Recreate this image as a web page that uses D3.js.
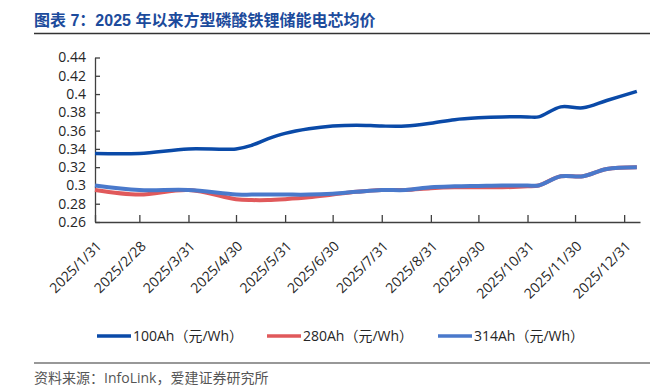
<!DOCTYPE html>
<html>
<head>
<meta charset="utf-8">
<script src="https://cdn.jsdelivr.net/npm/d3@7"></script>
<style>
body { margin: 0; background: #fff; }
text { font-family: "Open Sans", "Noto Sans CJK SC", sans-serif; }
</style>
</head>
<body>
<div id="chart"></div>
<script>
// data
var dates = ["2025-01-31","2025-02-28","2025-03-31","2025-04-30","2025-05-10","2025-05-20","2025-05-31",
  "2025-06-15","2025-06-30","2025-07-15","2025-07-31","2025-08-15","2025-08-31","2025-09-15","2025-09-30",
  "2025-10-15","2025-10-31","2025-11-07","2025-11-21","2025-12-05","2025-12-20","2026-01-08"]
var p100 = [0.335,0.335,0.340,0.340,0.344,0.351,0.357,0.362,0.365,0.366,0.365,0.365,0.368,0.372,0.374,0.375,0.375,0.375,0.386,0.385,0.393,0.403]
var p280 = [0.295,0.290,0.295,0.285,0.284,0.284,0.285,0.287,0.290,0.293,0.295,0.295,0.297,0.298,0.298,0.298,0.299,0.300,0.310,0.310,0.318,0.320]
var p314 = [0.300,0.295,0.295,0.290,0.290,0.290,0.290,0.290,0.291,0.293,0.295,0.295,0.298,0.299,0.2995,0.300,0.300,0.300,0.310,0.310,0.318,0.320]
var seriesNames = ["100Ah（元/Wh）","280Ah（元/Wh）","314Ah（元/Wh）"]
var tickDates = ["2025-01-31","2025-02-28","2025-03-31","2025-04-30","2025-05-31","2025-06-30",
  "2025-07-31","2025-08-31","2025-09-30","2025-10-31","2025-11-30","2025-12-31"]
var tickLabels = ["2025/1/31","2025/2/28","2025/3/31","2025/4/30","2025/5/31","2025/6/30",
  "2025/7/31","2025/8/31","2025/9/30","2025/10/31","2025/11/30","2025/12/31"]
var yTicks = [0.26,0.28,0.3,0.32,0.34,0.36,0.38,0.4,0.42,0.44]

var width = 650
var height = 390
var colors = ["#0a4aa8", "#e0595b", "#4a79cb"]

var parse = d3.timeParse("%Y-%m-%d")

var svg = d3.select("#chart")
  .append("svg")
  .attr("width", width)
  .attr("height", height)

// Titel
svg.append("text")
  .attr("x", 34)
  .attr("y", 26)
  .text("图表 7：2025 年以来方型磷酸铁锂储能电芯均价")
  .style("font-family", "'Liberation Sans', 'Noto Sans CJK SC', sans-serif")
  .style("font-weight", "bold")
  .style("font-size", "16px")
  .attr("fill", "#1c4b9c")

svg.append("line")
  .attr("x1", 34).attr("x2", width)
  .attr("y1", 33.5).attr("y2", 33.5)
  .attr("stroke", "#333").attr("stroke-width", 1.5)

// Skalen
var x = d3.scaleTime()
  .domain([parse("2025-01-31"), parse("2026-01-10")])
  .range([95, 640])

var y = d3.scaleLinear()
  .domain([0.26, 0.44])
  .range([222, 57.5])

// y Achse
var yAxis = svg.append("g")
  .attr("transform", "translate(95,0)")
  .call(d3.axisLeft(y).tickValues(yTicks).tickSize(-5).tickSizeOuter(0)
    .tickFormat(function(d){ return String(+d.toFixed(2)) }))
yAxis.select(".domain").attr("stroke", "#404040").attr("stroke-width", 1.3)
yAxis.selectAll(".tick line").attr("stroke", "#404040").attr("stroke-width", 1.3)
yAxis.selectAll(".tick text")
  .attr("x", -9)
  .style("font-size", "14px")
  .style("font-family", "'Open Sans', sans-serif")
  .attr("fill", "#262626")

// x Achse
var xAxis = svg.append("g")
  .attr("transform", "translate(0,222)")
  .call(d3.axisBottom(x).tickValues(tickDates.map(parse)).tickSize(-7).tickSizeOuter(0)
    .tickFormat(function(d, i){ return tickLabels[i] }))
xAxis.select(".domain").attr("stroke", "#404040").attr("stroke-width", 1.3)
xAxis.selectAll(".tick line").attr("stroke", "#404040").attr("stroke-width", 1.3)
xAxis.selectAll(".tick text")
  .style("font-size", "14px")
  .style("font-family", "'Open Sans', sans-serif")
  .attr("fill", "#262626")
  .attr("text-anchor", "end")
  .attr("dy", null)
  .attr("y", 0)
  .attr("transform", "translate(7,25) rotate(-45)")

// Linien
var allSeries = [p100, p280, p314]
var line = d3.line()
  .curve(d3.curveCatmullRom.alpha(0.5))
  .x(function(d){ return x(d.date) })
  .y(function(d){ return y(d.value) })

svg.selectAll(".series")
  .data(allSeries)
  .enter()
  .append("path")
    .attr("class", "series")
    .attr("fill", "none")
    .attr("stroke", function(d, i){ return colors[i] })
    .attr("stroke-width", function(d, i){ return i == 0 ? 3.5 : 4 })
    .attr("stroke-linejoin", "round")
    .attr("d", function(vals){
      return line(vals.map(function(v, j){ return {date: parse(dates[j]), value: v} }))
    })

// Legende
var legendX = [97, 267, 438]
var legend = svg.selectAll(".legend")
  .data(seriesNames)
  .enter()
  .append("g")
    .attr("class", "legend")
    .attr("transform", function(d, i){ return "translate(" + legendX[i] + ",336)" })
legend.append("line")
  .attr("x1", 0).attr("x2", 34)
  .attr("stroke", function(d, i){ return colors[i] })
  .attr("stroke-width", 3.5)
legend.append("text")
  .attr("x", 36)
  .attr("dy", "0.35em")
  .text(function(d){ return d })
  .style("font-size", "14px")
  .attr("fill", "#262626")

// Quelle
svg.append("line")
  .attr("x1", 34).attr("x2", width)
  .attr("y1", 363).attr("y2", 363)
  .attr("stroke", "#333").attr("stroke-width", 1.2)

svg.append("text")
  .attr("x", 34)
  .attr("y", 383)
  .text("资料来源：InfoLink，爱建证券研究所")
  .style("font-size", "14px")
  .attr("fill", "#555")
</script>
</body>
</html>
